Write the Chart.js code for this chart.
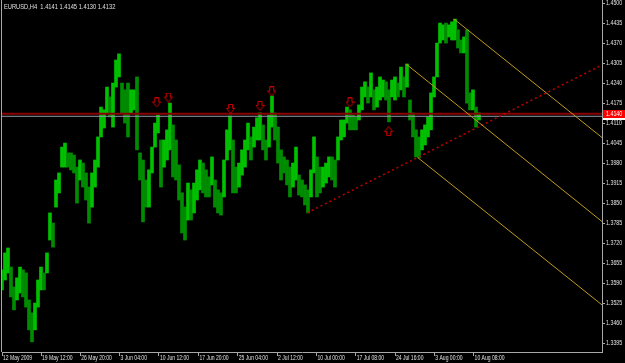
<!DOCTYPE html>
<html>
<head>
<meta charset="utf-8">
<script src="https://cdn.jsdelivr.net/npm/chart.js@4.4.0/dist/chart.umd.min.js"></script>
<style>
  html, body { margin: 0; padding: 0; background: #000; }
  #wrap { width: 625px; height: 363px; position: relative; }
</style>
</head>
<body>
<div id="wrap"><canvas id="eurusd"></canvas></div>
<script>
// EURUSD H4, one slot per ~3 original bars: high / low of the slot
const highs = [
  1.3633,1.3688,1.3704,1.3642,1.3577,1.3607,1.3642,1.3633,1.3623,1.3535,
  1.3493,1.3525,1.3600,1.3642,1.3623,1.3688,1.3818,1.3785,1.3925,1.3948,
  1.4032,1.4045,1.4013,1.4013,1.4006,1.3967,1.3990,1.3980,1.3948,1.3902,
  1.3948,1.3990,1.4065,1.4162,1.4153,1.4227,1.4195,1.4240,1.4315,1.4335,
  1.4240,1.4218,1.4240,1.4218,1.4218,1.4260,1.4013,1.3990,1.3925,1.3958,
  1.4032,1.4110,1.4136,1.4055,1.4055,1.4088,1.4175,1.4104,1.4055,1.3974,
  1.3883,1.3837,1.3915,1.3893,1.3915,1.3958,1.3990,1.3980,1.3958,1.3935,
  1.4000,1.3925,1.3893,1.3883,1.3990,1.4088,1.4133,1.4055,1.3967,1.3980,
  1.4023,1.4055,1.4110,1.4065,1.4097,1.4127,1.4143,1.4104,1.4055,1.4136,
  1.4198,1.4143,1.4097,1.4023,1.4000,1.3990,1.3967,1.3980,1.4032,1.3941,
  1.3925,1.3909,1.3893,1.3958,1.4065,1.4000,1.3967,1.3967,1.3980,1.4000,
  1.4000,1.3990,1.4065,1.4120,1.4120,1.4162,1.4153,1.4136,1.4130,1.4169,
  1.4227,1.4244,1.4227,1.4273,1.4218,1.4227,1.4260,1.4250,1.4244,1.4218,
  1.4250,1.4260,1.4240,1.4292,1.4260,1.4302,1.4185,1.4143,1.4088,1.4065,
  1.4088,1.4104,1.4130,1.4208,1.4260,1.4370,1.4435,1.4429,1.4435,1.4429,
  1.4439,1.4448,1.4413,1.4380,1.4390,1.4413,1.4208,1.4218,1.4162,1.4143
];
const lows = [
  1.3568,1.3600,1.3623,1.3545,1.3503,1.3535,1.3558,1.3545,1.3512,1.3438,
  1.3399,1.3438,1.3512,1.3568,1.3568,1.3623,1.3730,1.3707,1.3837,1.3883,
  1.3967,1.3967,1.3967,1.3958,1.3948,1.3850,1.3925,1.3902,1.3860,1.3785,
  1.3837,1.3902,1.3967,1.4065,1.4094,1.4143,1.4130,1.4097,1.4227,1.4260,
  1.4143,1.4110,1.4065,1.4143,1.4153,1.4023,1.3925,1.3789,1.3837,1.3837,
  1.3948,1.4032,1.4078,1.3902,1.3967,1.3990,1.4023,1.3935,1.3925,1.3860,
  1.3753,1.3730,1.3795,1.3795,1.3818,1.3860,1.3893,1.3883,1.3870,1.3870,
  1.3909,1.3837,1.3818,1.3811,1.3870,1.3990,1.4023,1.3883,1.3883,1.3902,
  1.3941,1.3967,1.4023,1.3990,1.4032,1.4055,1.4055,1.4023,1.3990,1.4032,
  1.4097,1.4055,1.3980,1.3925,1.3948,1.3909,1.3870,1.3902,1.3925,1.3876,
  1.3870,1.3844,1.3818,1.3870,1.3948,1.3870,1.3883,1.3902,1.3915,1.3935,
  1.3925,1.3902,1.3990,1.4055,1.4065,1.4110,1.4088,1.4088,1.4088,1.4120,
  1.4153,1.4195,1.4175,1.4195,1.4153,1.4162,1.4185,1.4195,1.4185,1.4114,
  1.4195,1.4185,1.4195,1.4218,1.4195,1.4227,1.4120,1.4065,1.4000,1.3997,
  1.4023,1.4039,1.4065,1.4088,1.4195,1.4260,1.4370,1.4380,1.4370,1.4390,
  1.4380,1.4380,1.4354,1.4338,1.4338,1.4175,1.4153,1.4153,1.4097,1.4120
];

const priceTicks = [1.3395, 1.3460, 1.3525, 1.3590, 1.3655, 1.3720, 1.3785, 1.3850, 1.3915,
  1.3980, 1.4045, 1.4110, 1.4175, 1.4240, 1.4305, 1.4370, 1.4435, 1.4500];
const timeTickAt = [0, 13.0, 26.1, 39.2, 52.3, 65.5, 78.6, 91.7, 104.8, 117.9, 131.0, 144.1, 157.2];
const timeLabels = ['12 May 2009', '19 May 12:00', '26 May 20:00', '3 Jun 04:00', '10 Jun 12:00',
  '17 Jun 20:00', '25 Jun 04:00', '2 Jul 12:00', '10 Jul 00:00', '17 Jul 08:00', '24 Jul 16:00',
  '3 Aug 00:00', '10 Aug 08:00'];

const header = 'EURUSD,H4  1.4141 1.4145 1.4130 1.4132';
const resistance = 1.4140;
const bid = 1.4132;

// drawn objects: [slot, price] pairs
const supportLine = [[101.7, 1.3818], [200, 1.4299]];
const channelUpper = [[150.7, 1.4448], [200, 1.4063]];
const channelMid = [[134.7, 1.4302], [200, 1.3790]];
const channelLow = [[138.7, 1.3997], [200, 1.3519]];
const downArrows = [[51.6, 1.4177], [55.4, 1.4193], [76.2, 1.4156], [86, 1.4166], [89.9, 1.4213], [116, 1.4177]];
const upArrows = [[128.9, 1.4084]];

const AXIS = '#a8a8a8';
const TXT = '#e0e0e0';
const GOLD = '#c09a1c';

const pts = arr => arr.map(p => ({ x: p[0], y: p[1] }));
const hline = v => [{ x: 0, y: v }, { x: 200, y: v }];

const bars = lows.map((l, i) => ({ x: i, y: [l, highs[i]] }));
const barColors = lows.map((l, i) => {
  if (i === 0) return '#00a800';
  const m = (l + highs[i]) / 2, pm = (lows[i - 1] + highs[i - 1]) / 2;
  return m >= pm ? '#00c000' : '#008c00';
});

function arrowImg(down) {
  const cv = document.createElement('canvas');
  cv.width = 9; cv.height = 10;
  const g = cv.getContext('2d');
  g.strokeStyle = '#d00000';
  g.lineWidth = 1;
  g.beginPath();
  if (down) {
    g.moveTo(2.5, 0.5); g.lineTo(6.5, 0.5); g.lineTo(6.5, 4.5); g.lineTo(8.5, 4.5);
    g.lineTo(4.5, 9.5); g.lineTo(0.5, 4.5); g.lineTo(2.5, 4.5);
  } else {
    g.moveTo(2.5, 9.5); g.lineTo(6.5, 9.5); g.lineTo(6.5, 5.5); g.lineTo(8.5, 5.5);
    g.lineTo(4.5, 0.5); g.lineTo(0.5, 5.5); g.lineTo(2.5, 5.5);
  }
  g.closePath();
  g.stroke();
  return cv;
}

const mtLook = {
  id: 'mtLook',
  beforeDraw(chart) {
    const c = chart.ctx;
    c.save();
    c.fillStyle = '#000';
    c.fillRect(0, 0, chart.width, chart.height);
    c.restore();
  },
  afterDraw(chart) {
    const c = chart.ctx, a = chart.chartArea;
    const xs = chart.scales.x, ys = chart.scales.y;
    c.save();
    c.strokeStyle = AXIS;
    c.lineWidth = 1;
    c.beginPath();
    c.moveTo(a.left - 0.5, a.top);
    c.lineTo(a.left - 0.5, a.bottom);
    c.stroke();

    c.font = '7px "Liberation Sans", Arial, sans-serif';
    c.textBaseline = 'middle';
    c.textAlign = 'left';
    const squeeze = (txt, x, y, k) => {
      c.save();
      c.translate(x, y);
      c.scale(k, 1);
      c.fillText(txt, 0, 0);
      c.restore();
    };
    c.fillStyle = TXT;
    priceTicks.forEach(v => squeeze(v.toFixed(4), a.right + 4, ys.getPixelForValue(v), 0.76));
    timeTickAt.forEach((v, i) => squeeze(timeLabels[i], xs.getPixelForValue(v) + 1, a.bottom + 6.5, 0.72));
    squeeze(header, 4, 7, 0.82);

    const box = (v, bg, fg) => {
      const y = Math.round(ys.getPixelForValue(v));
      c.fillStyle = bg;
      c.fillRect(a.right + 1, y - 4, chart.width - a.right - 1, 8);
      c.fillStyle = fg;
      squeeze(v.toFixed(4), a.right + 4, y, 0.76);
    };
    box(bid, '#ffffff', '#000000');
    box(resistance, '#ff0000', '#ffffff');
    c.restore();
  }
};

new Chart(document.getElementById('eurusd'), {
  type: 'bar',
  data: {
    datasets: [
      { type: 'bar', data: bars, backgroundColor: barColors, barThickness: 3, grouped: false, borderWidth: 0, order: 10 },
      { type: 'line', data: hline(resistance), borderColor: '#8b0000', borderWidth: 2, pointRadius: 0, order: 5 },
      { type: 'line', data: hline(bid), borderColor: '#8e9aa6', borderWidth: 1, pointRadius: 0, order: 4 },
      { type: 'line', data: pts(supportLine), borderColor: '#c00000', borderWidth: 1.5, borderDash: [2, 3], pointRadius: 0, order: 3 },
      { type: 'line', data: pts(channelUpper), borderColor: GOLD, borderWidth: 1, pointRadius: 0, order: 2 },
      { type: 'line', data: pts(channelMid), borderColor: GOLD, borderWidth: 1, pointRadius: 0, order: 2 },
      { type: 'line', data: pts(channelLow), borderColor: GOLD, borderWidth: 1, pointRadius: 0, order: 2 },
      { type: 'line', data: pts(downArrows), showLine: false, pointStyle: arrowImg(true), pointRadius: 5, order: 1 },
      { type: 'line', data: pts(upArrows), showLine: false, pointStyle: arrowImg(false), pointRadius: 5, order: 1 }
    ]
  },
  options: {
    responsive: true,
    maintainAspectRatio: false,
    animation: false,
    events: [],
    layout: { autoPadding: false, padding: { left: 2, top: 0, right: 0, bottom: 0 } },
    plugins: { legend: { display: false }, tooltip: { enabled: false } },
    scales: {
      x: {
        type: 'linear', position: 'bottom', min: 0, max: 200, offset: false,
        afterBuildTicks: s => { s.ticks = timeTickAt.map(v => ({ value: v })); },
        afterFit: s => { s.height = 11; },
        ticks: { display: false },
        grid: { offset: false, drawOnChartArea: false, drawTicks: true, tickLength: 4, color: AXIS },
        border: { display: true, color: AXIS }
      },
      y: {
        type: 'linear', position: 'right', min: 1.3366, max: 1.4510,
        afterBuildTicks: s => { s.ticks = priceTicks.map(v => ({ value: v })); },
        afterFit: s => { s.width = 23; },
        ticks: { display: false },
        grid: { drawOnChartArea: false, drawTicks: true, tickLength: 3, color: AXIS },
        border: { display: true, color: AXIS }
      }
    }
  },
  plugins: [mtLook]
});
</script>
</body>
</html>
